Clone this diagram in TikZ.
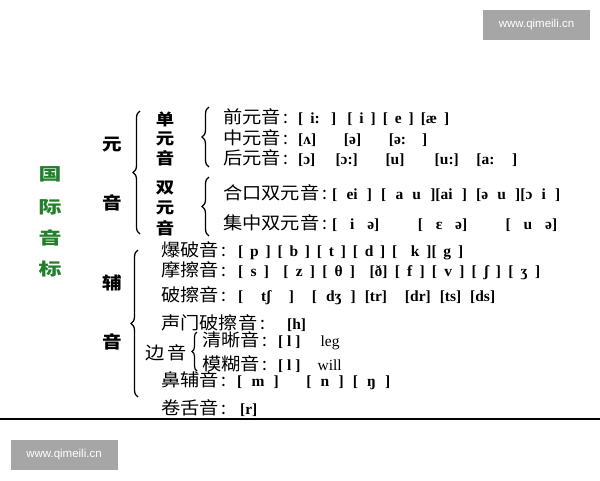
\documentclass[tikz,border=0pt]{standalone}
\usepackage{fontspec}
\setmainfont{Liberation Serif}
\newfontfamily\zhfont{Noto Sans CJK SC}
\newfontfamily\wmfont{Liberation Sans}
\usetikzlibrary{decorations.pathreplacing}
\definecolor{titlegreen}{RGB}{34,128,44}
\definecolor{wmgray}{RGB}{166,166,166}
\tikzset{
  titlech/.style={font=\zhfont\fontsize{17}{17}\selectfont\bfseries, text=titlegreen, inner sep=0pt},
  bigch/.style={font=\zhfont\fontsize{17}{17}\selectfont\bfseries, inner sep=0pt},
  subch/.style={font=\zhfont\fontsize{16}{16}\selectfont\bfseries, inner sep=0pt},
  entry/.style={anchor=west, font=\fontsize{15.5}{18}\selectfont\bfseries, inner sep=0pt},
  curly/.style={decorate, decoration={brace, amplitude=7pt}, line width=1.3pt},
  smallcurly/.style={decorate, decoration={brace, amplitude=5pt}, line width=1.2pt},
  wmark/.style={fill=wmgray, text=white, font=\wmfont\fontsize{11.5}{12}\selectfont, minimum width=107pt, minimum height=30pt, inner sep=0pt}
}
\newcommand{\wide}[2][1.35]{\scalebox{#1}[1]{#2}}
% label part and phonetic part of one line
\newcommand{\lab}[2]{\makebox[#1][l]{\zhfont\fontsize{17.5}{17.5}\selectfont\mdseries\wide[1.1]{#2}\,:\hfill}}
\newcommand{\ipa}[2]{\makebox[#1][s]{#2}}

\begin{document}
\begin{tikzpicture}[x=1pt, y=-1pt]
\useasboundingbox (0,0) rectangle (600,480);
\fill[white] (0,0) rectangle (600,480);

% watermarks
\node[wmark] (wmtop) at (536.5,25) {www.qimeili.cn};
\node[wmark] (wmbot) at (64,455) {www.qimeili.cn};

% title, green, written downwards
\node[titlech] (t1) at (50,174) {\wide{国}};
\node[titlech] (t2) at (50,207) {\wide{际}};
\node[titlech] (t3) at (50,238) {\wide{音}};
\node[titlech] (t4) at (50,269) {\wide{标}};

% vowels / consonants
\node[bigch] (yuan) at (112,145) {\wide[1.15]{元}};
\node[bigch] (yin1) at (112,203) {\wide[1.15]{音}};
\node[bigch] (fu) at (112,283) {\wide[1.15]{辅}};
\node[bigch] (yin2) at (112,342) {\wide[1.15]{音}};
\draw[curly] (140,234) -- (140,111);
\draw[curly] (138,397) -- (138,250);

% monophthongs and diphthongs
\node[subch] (dan1) at (165,119) {\wide[1.15]{单}};
\node[subch] (dan2) at (165,139) {\wide[1.15]{元}};
\node[subch] (dan3) at (165,158) {\wide[1.15]{音}};
\node[subch] (shuang1) at (165,188) {\wide[1.15]{双}};
\node[subch] (shuang2) at (165,208) {\wide[1.15]{元}};
\node[subch] (shuang3) at (165,228) {\wide[1.15]{音}};
\draw[curly] (209,167) -- (209,107);
\draw[curly] (209,236) -- (209,177);

\node[entry] (front) at (223,117) {\lab{75pt}{前元音}\ipa{151pt}{[ i: ] [ i ] [ e ] [æ ]}};
\node[entry] (central) at (223,138) {\lab{75pt}{中元音}\ipa{129pt}{[ʌ]~~ [ə]~~ [ə: ]}};
\node[entry] (back) at (223,158) {\lab{75pt}{后元音}\ipa{219pt}{[ɔ]~ [ɔ:]~ [u]~~ [u:] [a: ]}};
\node[entry] (closing) at (223,193) {\lab{109pt}{合口双元音}\ipa{228pt}{[ ei ] [ a u ][ai ] [ə u ][ɔ i ]}};
\node[entry] (centring) at (223,223) {\lab{109pt}{集中双元音}\ipa{225pt}{[ i ə]~~ [ ɛ ə]~~ [ u ə]}};

% consonant groups
\node[entry] (plosive) at (161,251) {\lab{77pt}{爆破音}\ipa{225pt}{[ p ] [ b ] [ t ] [ d ] [~ k ][ g ]}};
\node[entry] (fricative) at (161,271) {\lab{77pt}{摩擦音}\ipa{302pt}{[ s ]~ [ z ] [ θ ]~ [ð] [ f ] [ v ] [ ʃ ] [ ʒ ]}};
\node[entry] (affricate) at (161,296) {\lab{77pt}{破擦音}\ipa{257pt}{[~ tʃ~ ]~ [ dʒ ] [tr]~ [dr] [ts] [ds]}};
\node[entry] (glottal) at (161,323) {\lab{126pt}{声门破擦音}[h]};
\node[entry, font=\zhfont\fontsize{17.5}{17.5}\selectfont] (lateral) at (145,353) {\wide[1.1]{边\,音}};
\draw[smallcurly] (197,371) -- (197,332);
\node[entry] (clear) at (202,341) {\lab{76pt}{清晰音}[~l~]\hspace{20pt}{\mdseries leg}};
\node[entry] (dark) at (202,364) {\lab{76pt}{模糊音}[~l~]\hspace{17pt}{\mdseries will}};
\node[entry] (nasal) at (161,381) {\lab{76pt}{鼻辅音}\ipa{153pt}{[ m ]~~ [ n ] [ ŋ ]}};
\node[entry] (retro) at (161,408) {\lab{79pt}{卷舌音}[r]};

\draw[line width=1.5pt] (0,419) -- (600,419);
\end{tikzpicture}
\end{document}
